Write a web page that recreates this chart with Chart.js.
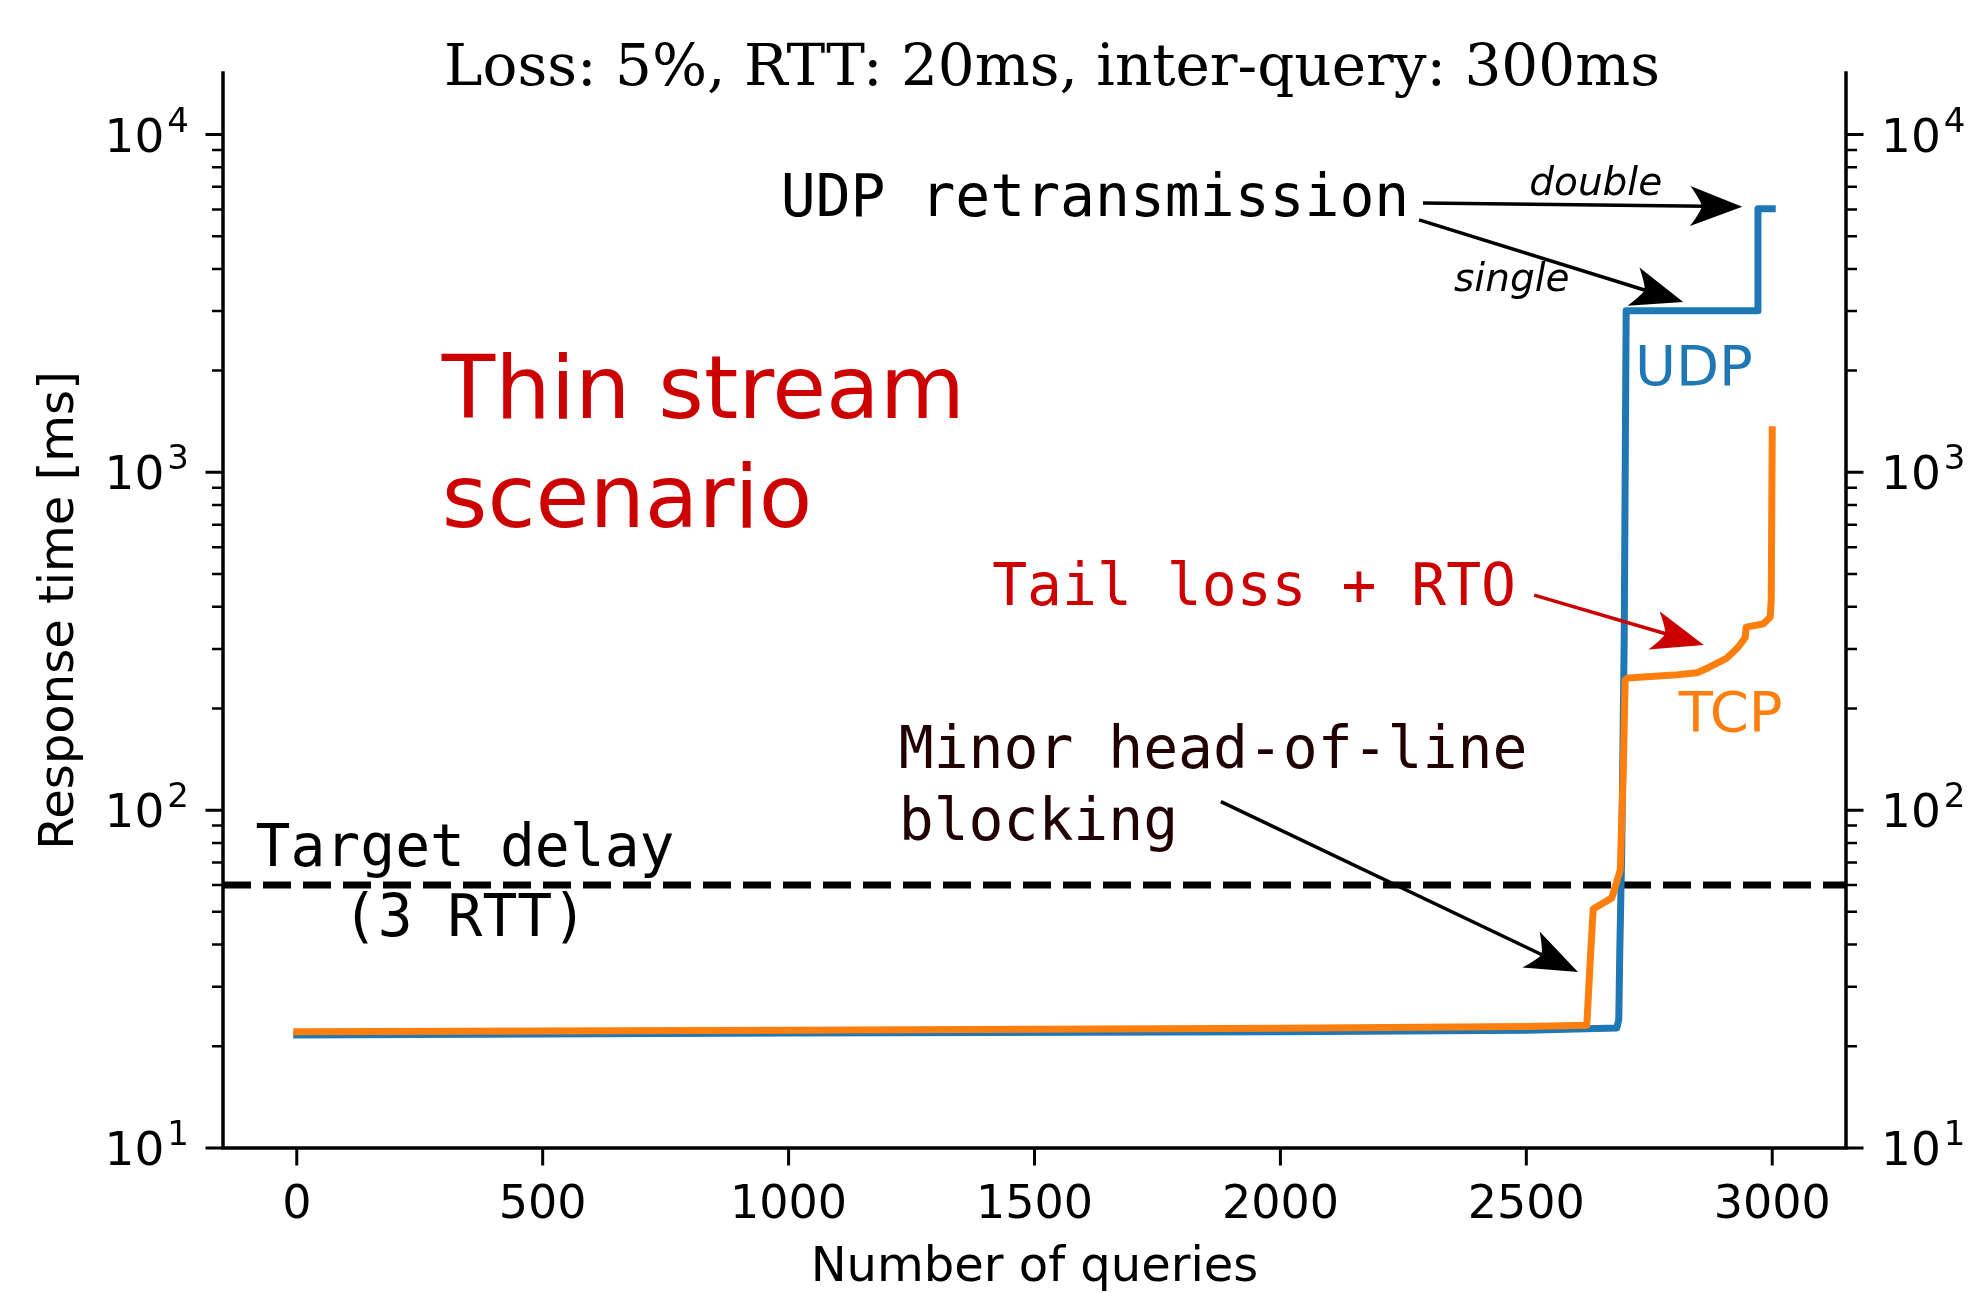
<!DOCTYPE html>
<html><head><meta charset="utf-8">
<script src="https://cdn.jsdelivr.net/npm/chart.js@4"></script>
<style>html,body{margin:0;padding:0;background:#fff;}#wrap{width:1969px;height:1293px;}</style>
</head><body><div id="wrap"><canvas id="c" width="1969" height="1293"></canvas></div>
<script>
// ---------------- data ----------------
const udpQueries = [0, 1000, 2000, 2500, 2684, 2688, 2690, 2694, 2699, 2703, 2970, 2971, 3000];
const udpMs      = [21.6, 21.9, 22.1, 22.3, 22.65, 24, 38, 76, 319, 3006, 3006, 6026, 6026];
const tcpQueries = [0, 1000, 2000, 2500, 2623, 2630, 2636, 2674, 2691, 2697, 2701, 2706, 2800, 2847, 2870, 2908, 2931, 2945, 2947, 2982, 2996, 2998, 3000];
const tcpMs      = [22.1, 22.3, 22.6, 22.9, 23.1, 36, 51, 55, 66.5, 129, 243, 246, 251, 255, 264, 282, 304, 324, 348, 356, 373, 420, 1336];
const xTickValues = [0, 500, 1000, 1500, 2000, 2500, 3000];
const yDecadeExponents = [1, 2, 3, 4];
const targetDelayMs = 60;
const xLimits = [-150, 3150];
const yLimits = [10, 15200];

const titleText = 'Loss: 5%, RTT: 20ms, inter-query: 300ms';
const xLabel = 'Number of queries';
const yLabel = 'Response time [ms]';

const BLUE = '#1f77b4', ORANGE = '#ff7f0e', RED = '#cc0000';

// annotation layout (positions in data coordinates)
const notes = [
  {lines:['Thin stream','scenario'], q:295, v:1450, font:'87.5px "DejaVu Sans"', color:RED, align:'left', lh:109},
  {lines:['UDP retransmission'], q:984, v:5740, font:'58px "DejaVu Sans Mono"', color:'#000', align:'left'},
  {lines:['double'], q:2506, v:6620, font:'italic 39px "DejaVu Sans"', color:'#000', align:'left'},
  {lines:['single'], q:2353, v:3444, font:'italic 39px "DejaVu Sans"', color:'#000', align:'left'},
  {lines:['UDP'], q:2721, v:1815, font:'56px "DejaVu Sans"', color:BLUE, align:'left'},
  {lines:['TCP'], q:2810, v:171, font:'56px "DejaVu Sans"', color:ORANGE, align:'left'},
  {lines:['Tail loss + RTO'], q:1414, v:405, font:'58px "DejaVu Sans Mono"', color:RED, align:'left'},
  {lines:['Minor head-of-line','blocking'], q:1224, v:133, font:'58px "DejaVu Sans Mono"', color:'#200000', align:'left', lh:72},
  {lines:['Target delay','(3 RTT)'], q:342, v:68.4, font:'58px "DejaVu Sans Mono"', color:'#000', align:'center', lh:70}
];
const arrows = [
  {q1:2290, v1:6270, q2:2939, v2:6110, color:'#000'},
  {q1:2282, v1:5585, q2:2819, v2:3190, color:'#000'},
  {q1:2516, v1:433,  q2:2861, v2:308,  color:RED},
  {q1:1879, v1:106,  q2:2605, v2:33.2, color:'#000'}
];

function pts(xs, ys){ return xs.map((x,i)=>({x:x, y:ys[i]})); }

function drawArrow(ctx, x1, y1, x2, y2, color){
  const hl = 52, hw = 20, lw = 3.5;
  const a = Math.atan2(y2-y1, x2-x1), ux = Math.cos(a), uy = Math.sin(a), px = -uy, py = ux;
  ctx.save();
  ctx.strokeStyle = color; ctx.fillStyle = color; ctx.lineWidth = lw; ctx.lineCap = 'butt';
  ctx.beginPath(); ctx.moveTo(x1, y1); ctx.lineTo(x2 - ux*hl*0.7, y2 - uy*hl*0.7); ctx.stroke();
  const bx = x2 - ux*hl, by = y2 - uy*hl;
  const nx = x2 - ux*hl*0.78, ny = y2 - uy*hl*0.78;
  ctx.beginPath();
  ctx.moveTo(x2, y2);
  ctx.lineTo(bx + px*hw, by + py*hw);
  ctx.quadraticCurveTo(nx + px*hw*0.2, ny + py*hw*0.2, nx, ny);
  ctx.quadraticCurveTo(nx - px*hw*0.2, ny - py*hw*0.2, bx - px*hw, by - py*hw);
  ctx.closePath(); ctx.fill();
  ctx.restore();
}

const decor = {
  id:'decor',
  beforeDatasetsDraw(chart){
    const ctx = chart.ctx, ca = chart.chartArea, ys = chart.scales.y;
    const yp = ys.getPixelForValue(targetDelayMs);
    ctx.save();
    ctx.strokeStyle = '#000'; ctx.lineWidth = 7; ctx.setLineDash([28, 12]); ctx.lineCap = 'butt';
    ctx.beginPath(); ctx.moveTo(ca.left, yp); ctx.lineTo(ca.right, yp); ctx.stroke();
    ctx.restore();
  },
  afterDraw(chart){
    const ctx = chart.ctx, ca = chart.chartArea, xs = chart.scales.x, ys = chart.scales.y;
    ctx.save();
    // spines
    ctx.strokeStyle = '#000'; ctx.lineWidth = 3.5; ctx.lineCap = 'square';
    ctx.beginPath();
    ctx.moveTo(ca.left, ca.top); ctx.lineTo(ca.left, ca.bottom); ctx.lineTo(ca.right, ca.bottom); ctx.lineTo(ca.right, ca.top);
    ctx.stroke();
    ctx.lineCap = 'butt';
    // x ticks + labels
    ctx.fillStyle = '#000';
    ctx.font = '46px "DejaVu Sans"'; ctx.textAlign = 'center'; ctx.textBaseline = 'alphabetic';
    xs.ticks.forEach(t => {
      const x = xs.getPixelForValue(t.value);
      ctx.lineWidth = 3; ctx.beginPath(); ctx.moveTo(x, ca.bottom); ctx.lineTo(x, ca.bottom + 17.5); ctx.stroke();
      ctx.fillText(String(t.value), x, 1184 + 46*0.729);
    });
    // y ticks (both sides)
    yDecadeExponents.forEach(e => {
      const d = Math.pow(10, e);
      const y = ys.getPixelForValue(d);
      ctx.lineWidth = 3;
      ctx.beginPath(); ctx.moveTo(ca.left, y); ctx.lineTo(ca.left - 17.5, y); ctx.moveTo(ca.right, y); ctx.lineTo(ca.right + 17.5, y); ctx.stroke();
      for (let m = 2; m <= 9; m++) {
        const v = d*m;
        if (v > yLimits[1]) break;
        const ym = ys.getPixelForValue(v);
        ctx.lineWidth = 2.5;
        ctx.beginPath(); ctx.moveTo(ca.left, ym); ctx.lineTo(ca.left - 11, ym); ctx.moveTo(ca.right, ym); ctx.lineTo(ca.right + 11, ym); ctx.stroke();
      }
      // labels 10^e
      const fMain = 47, fExp = 34;
      ctx.textAlign = 'left';
      ctx.font = fMain + 'px "DejaVu Sans"'; const w10 = ctx.measureText('10').width;
      ctx.font = fExp + 'px "DejaVu Sans"'; const wE = ctx.measureText(String(e)).width;
      const base = y + fMain*0.729/2;
      const xl = 189 - (w10 + wE + 3);
      ctx.font = fMain + 'px "DejaVu Sans"'; ctx.fillText('10', xl, base);
      ctx.font = fExp + 'px "DejaVu Sans"'; ctx.fillText(String(e), xl + w10 + 3, base - 20);
      const xr = ca.right + 35;
      ctx.font = fMain + 'px "DejaVu Sans"'; ctx.fillText('10', xr, base);
      ctx.font = fExp + 'px "DejaVu Sans"'; ctx.fillText(String(e), xr + w10 + 3, base - 20);
    });
    // axis labels
    ctx.font = '48px "DejaVu Sans"'; ctx.textAlign = 'center';
    ctx.fillText(xLabel, (ca.left + ca.right)/2, 1281);
    ctx.save(); ctx.translate(73, (ca.top + ca.bottom)/2); ctx.rotate(-Math.PI/2);
    ctx.fillText(yLabel, 0, 0); ctx.restore();
    // title
    ctx.font = '58px "DejaVu Serif"'; ctx.textAlign = 'center';
    ctx.fillText(titleText, 1052, 85);
    // annotations
    notes.forEach(n => {
      const x = xs.getPixelForValue(n.q), y = ys.getPixelForValue(n.v);
      ctx.font = n.font; ctx.fillStyle = n.color; ctx.textAlign = n.align;
      n.lines.forEach((s, i) => ctx.fillText(s, x, y + i*(n.lh || 0)));
    });
    arrows.forEach(a => drawArrow(ctx, xs.getPixelForValue(a.q1), ys.getPixelForValue(a.v1), xs.getPixelForValue(a.q2), ys.getPixelForValue(a.v2), a.color));
    ctx.restore();
  }
};

const hiddenAxis = {ticks:{display:false}, grid:{display:false}, border:{display:false}};

new Chart(document.getElementById('c'), {
  type:'line',
  data:{datasets:[
    {label:'TCP', data:pts(tcpQueries, tcpMs), borderColor:ORANGE, borderWidth:7, pointRadius:0, tension:0, borderJoinStyle:'round', borderCapStyle:'square', fill:false},
    {label:'UDP', data:pts(udpQueries, udpMs), borderColor:BLUE, borderWidth:7, pointRadius:0, tension:0, borderJoinStyle:'round', borderCapStyle:'square', fill:false}
  ]},
  options:{
    responsive:false, animation:false, devicePixelRatio:1,
    layout:{padding:{top:73, left:0, right:0, bottom:0}},
    plugins:{legend:{display:false}, tooltip:{enabled:false}, title:{display:false}},
    scales:{
      x:Object.assign({type:'linear', position:'bottom', min:xLimits[0], max:xLimits[1],
        afterBuildTicks:s=>{ s.ticks = xTickValues.map(v=>({value:v})); },
        afterFit:s=>{ s.height = 145; }}, hiddenAxis),
      y:Object.assign({type:'logarithmic', position:'left', min:yLimits[0], max:yLimits[1],
        afterFit:s=>{ s.width = 223; }}, hiddenAxis),
      y2:Object.assign({type:'logarithmic', position:'right', min:yLimits[0], max:yLimits[1],
        afterFit:s=>{ s.width = 123; }}, hiddenAxis)
    }
  },
  plugins:[decor]
});
</script></body></html>
